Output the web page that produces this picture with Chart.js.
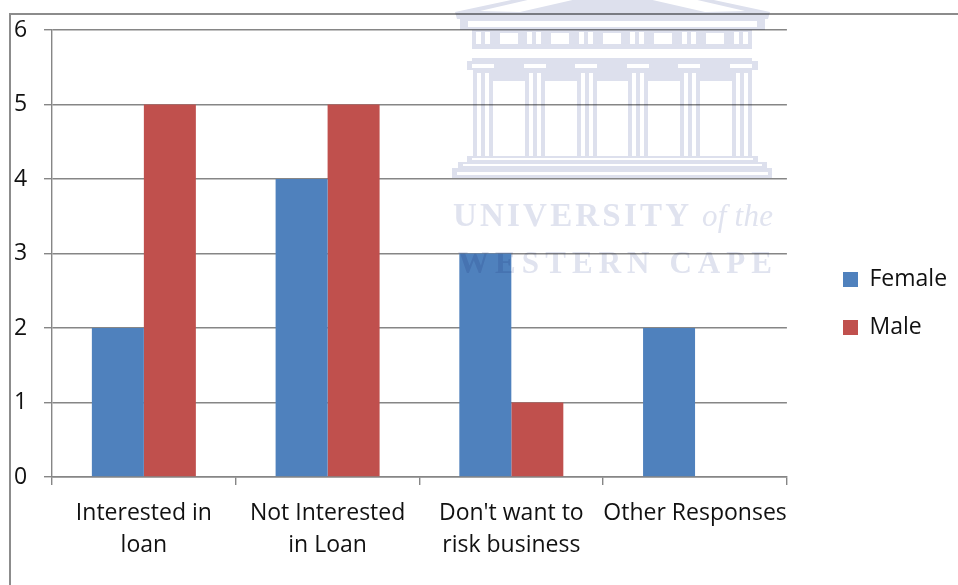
<!DOCTYPE html>
<html><head><meta charset="utf-8">
<script src="https://cdn.jsdelivr.net/npm/chart.js@4"></script>
<style>
html,body{margin:0;padding:0;background:#fff;overflow:hidden}
#wrap{position:relative;width:958px;height:585px}
#c{position:absolute;left:0;top:0}
#frame{position:absolute;left:9px;top:13px;width:949px;height:572px;border-top:2px solid #8c8c8c;border-left:2px solid #8c8c8c;box-sizing:border-box}
#wm{position:absolute;left:0;top:0;mix-blend-mode:multiply;pointer-events:none}
</style></head><body>
<div id="wrap">
<canvas id="c" width="958" height="585"></canvas>
<div id="frame"></div>
<svg id="wm" width="958" height="585" viewBox="0 0 958 585" xmlns="http://www.w3.org/2000/svg">
  <defs><filter id="soft" x="-5%" y="-5%" width="110%" height="110%"><feGaussianBlur stdDeviation="0.6"/></filter></defs>
  <g filter="url(#soft)">
  <g fill="#dde0ed">
    <path d="M455 12 L530 -4 L695 -4 L770 12 L768 19 L457 19 Z"/>
    <path fill="#fff" d="M480 11 L545 -4 L590 -4 L520 12 Z"/>
    <path fill="#fff" d="M745 11 L680 -4 L635 -4 L705 12 Z"/>
    <rect x="460" y="19" width="305" height="11"/>
    <rect x="468" y="21" width="289" height="6" fill="#fff"/>
    <rect x="472" y="30" width="280" height="16"/>
    <rect x="500" y="33" width="18" height="11" fill="#fff"/><rect x="551" y="33" width="18" height="11" fill="#fff"/>
    <rect x="603" y="33" width="18" height="11" fill="#fff"/><rect x="654" y="33" width="18" height="11" fill="#fff"/>
    <rect x="706" y="33" width="18" height="11" fill="#fff"/>
    <rect x="476" y="32" width="5" height="12" fill="#fff"/><rect x="485" y="32" width="5" height="12" fill="#fff"/>
    <rect x="527" y="32" width="5" height="12" fill="#fff"/><rect x="536" y="32" width="5" height="12" fill="#fff"/>
    <rect x="579" y="32" width="5" height="12" fill="#fff"/><rect x="588" y="32" width="5" height="12" fill="#fff"/>
    <rect x="630" y="32" width="5" height="12" fill="#fff"/><rect x="639" y="32" width="5" height="12" fill="#fff"/>
    <rect x="682" y="32" width="5" height="12" fill="#fff"/><rect x="691" y="32" width="5" height="12" fill="#fff"/>
    <rect x="734" y="32" width="5" height="12" fill="#fff"/><rect x="743" y="32" width="5" height="12" fill="#fff"/>
    <rect x="472" y="46" width="280" height="3"/>
    <rect x="472" y="58" width="280" height="3"/>
    <rect x="467" y="61" width="291" height="9"/>
    <rect x="473" y="70" width="279" height="11"/>
    <rect x="472" y="64" width="22" height="4" fill="#fff"/><rect x="524" y="64" width="22" height="4" fill="#fff"/>
    <rect x="575" y="64" width="22" height="4" fill="#fff"/><rect x="627" y="64" width="22" height="4" fill="#fff"/>
    <rect x="678" y="64" width="22" height="4" fill="#fff"/><rect x="730" y="64" width="22" height="4" fill="#fff"/>
  </g>
  <g fill="#dde0ed">
    <rect x="473" y="72" width="20" height="85"/><rect x="525" y="72" width="20" height="85"/>
    <rect x="577" y="72" width="20" height="85"/><rect x="628" y="72" width="20" height="85"/>
    <rect x="680" y="72" width="20" height="85"/><rect x="732" y="72" width="20" height="85"/>
  </g>
  <g fill="#fff">
    <rect x="477" y="73" width="4" height="84"/><rect x="485" y="73" width="4" height="84"/>
    <rect x="529" y="73" width="4" height="84"/><rect x="537" y="73" width="4" height="84"/>
    <rect x="581" y="73" width="4" height="84"/><rect x="589" y="73" width="4" height="84"/>
    <rect x="632" y="73" width="4" height="84"/><rect x="640" y="73" width="4" height="84"/>
    <rect x="684" y="73" width="4" height="84"/><rect x="692" y="73" width="4" height="84"/>
    <rect x="736" y="73" width="4" height="84"/><rect x="744" y="73" width="4" height="84"/>
  </g>
  <g fill="#dde0ed">
    <rect x="467" y="156" width="291" height="6"/>
    <rect x="458" y="162" width="309" height="6"/>
    <rect x="452" y="168" width="320" height="10"/>
  </g>
  <g fill="#fff">
    <rect x="472" y="158" width="281" height="2"/>
    <rect x="463" y="164" width="299" height="2"/>
    <rect x="457" y="172" width="311" height="3"/>
  </g>
  <g font-family="'Liberation Serif',serif" fill="#e0e3ef">
    <text x="453" y="226" font-size="33" font-weight="700" textLength="236" lengthAdjust="spacing">UNIVERSITY</text>
    <text x="702" y="226" font-size="31" font-style="italic" textLength="71" lengthAdjust="spacing">of the</text>
    <text x="458" y="273" font-size="31" font-weight="700" textLength="314" lengthAdjust="spacing">WESTERN CAPE</text>
  </g>
  </g>
</svg>
</div>
<script>
const categories = [["Interested in","loan"],["Not Interested","in Loan"],["Don't want to","risk business"],"Other Responses"];
const femaleValues = [2,4,3,2];
const maleValues = [5,5,1,0];
const yTicks = [0,1,2,3,4,5,6];
const seriesNames = ["Female","Male"];
const font = {family:"'Open Sans'",size:23,lineHeight:1.39};
const legendFont = {family:"'Open Sans'",size:23,lineHeight:1.2};
const ink = "#111";
const moveLegend = {id:'moveLegend',afterLayout(chart){
  const lg = chart.legend;
  lg.left = 843 - chart.options.plugins.legend.labels.padding;
  lg.right = 958; lg.width = lg.right - lg.left;
  lg.top -= 4; lg.bottom -= 4;
}};
new Chart(document.getElementById('c'),{
  type:'bar',
  plugins:[moveLegend],
  data:{labels:categories,datasets:[
    {label:seriesNames[0],data:femaleValues,backgroundColor:'#4f81bd',barPercentage:1,categoryPercentage:0.566},
    {label:seriesNames[1],data:maleValues,backgroundColor:'#c0504d',barPercentage:1,categoryPercentage:0.566}
  ]},
  options:{
    responsive:false,animation:false,
    layout:{padding:{left:14,top:30,right:32,bottom:0}},
    plugins:{
      tooltip:{enabled:false},
      legend:{position:'right',align:'center',
        labels:{font:legendFont,color:ink,boxWidth:15,boxHeight:15,padding:25},
        onClick:null}
    },
    scales:{
      y:{min:0,max:6,
        afterFit(a){a.width=38;},
        afterTickToLabelConversion(a){a.ticks=yTicks.map(v=>({value:v,label:String(v)}));},
        ticks:{font:font,color:ink,crossAlign:'far',padding:0},
        grid:{color:'#868686',lineWidth:1.4,tickLength:8},
        border:{color:'#868686',width:1.4}
      },
      x:{
        afterFit(a){a.height=108;},
        ticks:{font:font,color:ink,maxRotation:0,autoSkip:false,padding:12},
        grid:{drawOnChartArea:false,color:'#868686',lineWidth:1.4,tickLength:8},
        border:{color:'#868686',width:1.4}
      }
    }
  }
});
</script>
</body></html>
